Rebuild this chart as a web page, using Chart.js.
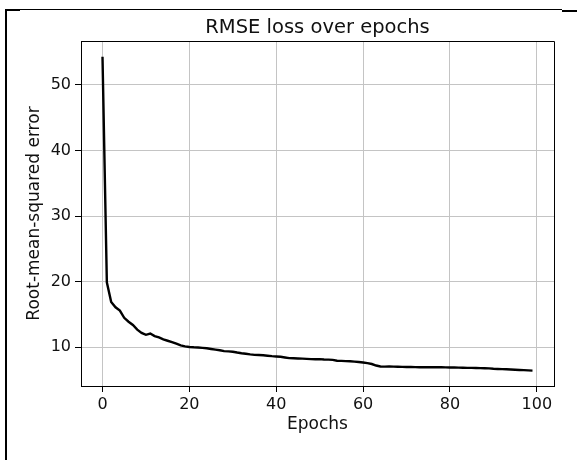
<!DOCTYPE html>
<html>
<head>
<meta charset="utf-8">
<script src="https://cdn.jsdelivr.net/npm/chart.js@4.4.0/dist/chart.umd.min.js"></script>
<style>
  body { margin: 0; background: #fff; }
  #wrap { position: relative; width: 577px; height: 460px; overflow: hidden; }
  .edge { position: absolute; background: #000; }
</style>
</head>
<body>
<div id="wrap">
  <canvas id="lossChart" width="577" height="460"></canvas>
  <!-- frame remnants around the picture -->
  <div class="edge" style="left:5px; top:9px; width:2px; height:451px;"></div>
  <div class="edge" style="left:5px; top:9px; width:557px; height:1px;"></div>
  <div class="edge" style="left:5px; top:9px; width:15px; height:2px;"></div>
  <div class="edge" style="left:562px; top:10px; width:15px; height:2px;"></div>
</div>
<script>
// RMSE per epoch
const epochs = Array.from({ length: 100 }, (_, i) => i);
const rmse = [
  54.3, 19.9, 16.9, 16.1, 15.6, 14.5, 13.9, 13.4, 12.7, 12.2,
  11.9, 12.1, 11.7, 11.5, 11.2, 11.0, 10.8, 10.55, 10.3, 10.15,
  10.05, 10.0, 9.97, 9.92, 9.85, 9.75, 9.65, 9.55, 9.42, 9.38,
  9.32, 9.2, 9.1, 9.02, 8.92, 8.85, 8.82, 8.78, 8.72, 8.65,
  8.6, 8.55, 8.45, 8.35, 8.32, 8.3, 8.27, 8.24, 8.2, 8.18,
  8.2, 8.15, 8.12, 8.08, 7.95, 7.93, 7.9, 7.87, 7.82, 7.75,
  7.68, 7.58, 7.45, 7.22, 7.08, 7.05, 7.07, 7.05, 7.03, 7.02,
  7.0, 7.0, 6.98, 6.97, 6.96, 6.98, 6.97, 6.96, 6.95, 6.94,
  6.93, 6.92, 6.9, 6.89, 6.87, 6.86, 6.84, 6.82, 6.8, 6.78,
  6.72, 6.7, 6.68, 6.65, 6.62, 6.58, 6.55, 6.52, 6.48, 6.45,
];
const xTicks = [0, 20, 40, 60, 80, 100];
const yTicks = [10, 20, 30, 40, 50];

const FONT = "'DejaVu Sans', sans-serif";

// title + top/right spines like matplotlib
const framePlugin = {
  id: "framePlugin",
  afterDraw(chart) {
    const { ctx, chartArea: a } = chart;
    ctx.save();
    ctx.strokeStyle = "#000";
    ctx.lineWidth = 1;
    ctx.beginPath();
    ctx.moveTo(a.left, a.top + 0.5);
    ctx.lineTo(a.right + 0.5, a.top + 0.5);
    ctx.lineTo(a.right + 0.5, a.bottom);
    ctx.stroke();
    ctx.fillStyle = "#111";
    ctx.font = "19.5px " + FONT;
    ctx.textAlign = "center";
    ctx.textBaseline = "alphabetic";
    ctx.fillText("RMSE loss over epochs", (a.left + a.right) / 2, 33);
    ctx.restore();
  },
};

new Chart(document.getElementById("lossChart"), {
  type: "line",
  data: {
    labels: epochs,
    datasets: [
      {
        data: epochs.map((e, i) => ({ x: e, y: rmse[i] })),
        borderColor: "#000",
        borderWidth: 2.4,
        pointRadius: 0,
        tension: 0,
      },
    ],
  },
  options: {
    responsive: false,
    animation: false,
    layout: { padding: { top: 41, right: 23, left: 0, bottom: 0 } },
    plugins: {
      legend: { display: false },
      tooltip: { enabled: false },
      title: { display: false },
    },
    scales: {
      x: {
        type: "linear",
        min: -4.95,
        max: 103.95,
        afterFit: (s) => { s.height = 74; },
        afterBuildTicks: (s) => { s.ticks = xTicks.map((v) => ({ value: v })); },
        grid: { color: "#c4c4c4", lineWidth: 1, tickColor: "#000", tickLength: 6 },
        border: { color: "#000", width: 1 },
        ticks: { color: "#111", font: { family: FONT, size: 16 }, padding: 3, maxRotation: 0 },
        title: {
          display: true,
          text: "Epochs",
          color: "#111",
          font: { family: FONT, size: 17 },
          padding: { top: 0, bottom: 25 },
        },
      },
      y: {
        min: 4.1,
        max: 56.7,
        afterFit: (s) => { s.width = 81; },
        afterBuildTicks: (s) => { s.ticks = yTicks.map((v) => ({ value: v })); },
        grid: { color: "#c4c4c4", lineWidth: 1, tickColor: "#000", tickLength: 6 },
        border: { color: "#000", width: 1 },
        ticks: { color: "#111", font: { family: FONT, size: 16 }, padding: 4 },
        title: {
          display: true,
          text: "Root-mean-squared error",
          color: "#111",
          font: { family: FONT, size: 17 },
          padding: { top: 24, bottom: 0 },
        },
      },
    },
  },
  plugins: [framePlugin],
});
</script>
</body>
</html>
